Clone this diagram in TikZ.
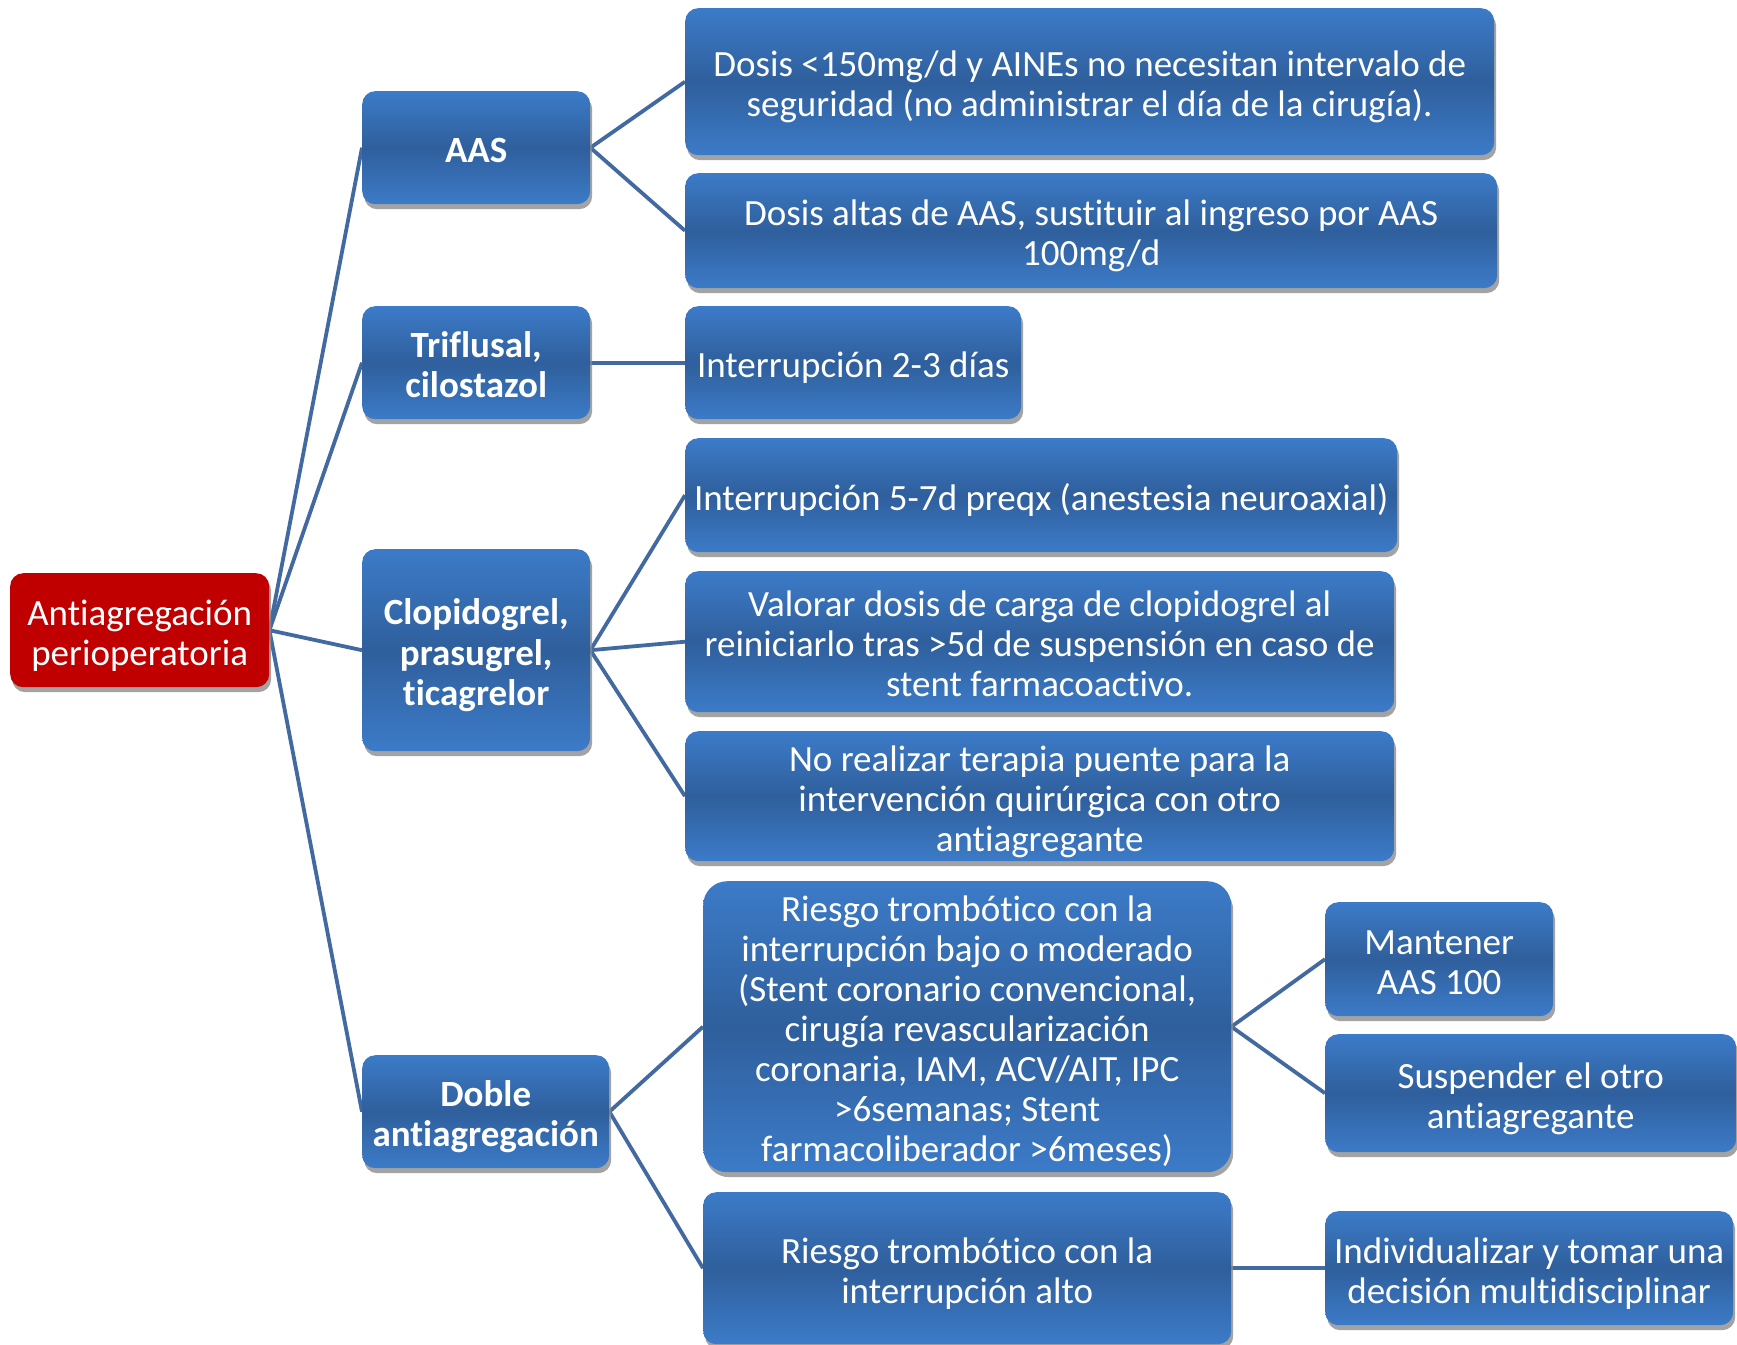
\documentclass[tikz,border=0pt]{standalone}
\usepackage{fontspec}
\setmainfont{Carlito}[Ligatures={NoCommon}]
\usetikzlibrary{shadows,backgrounds}
\definecolor{boxtop}{RGB}{60,123,200}
\definecolor{boxmid}{RGB}{47,95,156}
\definecolor{rootred}{RGB}{192,0,0}
\definecolor{linkc}{RGB}{66,106,160}
\newcommand\tx[1]{\rule{0pt}{40pt}#1\rule[-10pt]{0pt}{10pt}}
\tikzset{
  base/.style={anchor=north west, rounded corners=13pt, inner xsep=2pt, inner ysep=0pt, align=center,
    text=white, font=\fontsize{37}{40}\selectfont,
    drop shadow={shadow xshift=2pt, shadow yshift=-5pt, fill=black!45, opacity=0.8}},
  bluebox/.style={base, top color=boxtop, bottom color=boxtop, middle color=boxmid},
  boldbox/.style={bluebox, font=\fontsize{37}{40.5}\selectfont\bfseries},
  redbox/.style={base, fill=rootred},
  link/.style={draw=linkc, line width=3.8pt}
}
\begin{document}
\begin{tikzpicture}[x=1pt,y=-1pt]
\useasboundingbox (0,0) rectangle (1737,1344);
% root
\node[redbox, minimum width=259pt, minimum height=114pt] (root) at (10,573) {\tx{Antiagregación\\perioperatoria}};
% level 1
\node[boldbox, minimum width=228pt, minimum height=113pt] (aas) at (362,91) {\tx{AAS}};
\node[boldbox, minimum width=228pt, minimum height=113pt] (tri) at (362,306) {\tx{Triflusal,\\cilostazol}};
\node[boldbox, minimum width=228pt, minimum height=202pt] (clo) at (362,549) {\tx{Clopidogrel,\\prasugrel,\\ticagrelor}};
\node[boldbox, minimum width=247pt, minimum height=113pt] (dob) at (362,1055) {\tx{Doble\\antiagregación}};
% level 2
\node[bluebox, minimum width=809pt, minimum height=147pt] (d1) at (685,8) {\tx{Dosis <150mg/d y AINEs no necesitan intervalo de\\seguridad (no administrar el día de la cirugía).}};
\node[bluebox, minimum width=812pt, minimum height=115pt] (d2) at (685,173) {\tx{Dosis altas de AAS, sustituir al ingreso por AAS\\100mg/d}};
\node[bluebox, minimum width=336pt, minimum height=113pt] (i23) at (685,306) {\tx{Interrupción 2-3 días}};
\node[bluebox, minimum width=712pt, minimum height=114pt] (i57) at (685,438) {\tx{Interrupción 5-7d preqx (anestesia neuroaxial)}};
\node[bluebox, minimum width=709pt, minimum height=141pt] (val) at (685,571) {\tx{Valorar dosis de carga de clopidogrel al\\reiniciarlo tras >5d de suspensión en caso de\\stent farmacoactivo.}};
\node[bluebox, minimum width=709pt, minimum height=130pt] (nor) at (685,731) {\tx{No realizar terapia puente para la\\intervención quirúrgica con otro\\antiagregante}};
\node[bluebox, rounded corners=24pt, minimum width=528pt, minimum height=291pt] (rb) at (703,881) {\tx{Riesgo trombótico con la\\interrupción bajo o moderado\\(Stent coronario convencional,\\cirugía revascularización\\coronaria, IAM, ACV/AIT, IPC\\>6semanas; Stent\\farmacoliberador >6meses)}};
\node[bluebox, minimum width=528pt, minimum height=152pt] (ra) at (703,1192) {\tx{Riesgo trombótico con la\\interrupción alto}};
% level 3
\node[bluebox, minimum width=228pt, minimum height=114pt] (man) at (1325,902) {\tx{Mantener\\AAS 100}};
\node[bluebox, minimum width=411pt, minimum height=118pt] (sus) at (1325,1034) {\tx{Suspender el otro\\antiagregante}};
\node[bluebox, minimum width=408pt, minimum height=114pt] (ind) at (1325,1211) {\tx{Individualizar y tomar una\\decisión multidisciplinar}};
% connectors
\begin{scope}[on background layer]
\draw[link] (root.east) -- (aas.west);
\draw[link] (root.east) -- (tri.west);
\draw[link] (root.east) -- (clo.west);
\draw[link] (root.east) -- (dob.west);
\draw[link] (aas.east) -- (d1.west);
\draw[link] (aas.east) -- (d2.west);
\draw[link] (tri.east) -- (i23.west);
\draw[link] (clo.east) -- (i57.west);
\draw[link] (clo.east) -- (val.west);
\draw[link] (clo.east) -- (nor.west);
\draw[link] (dob.east) -- (rb.west);
\draw[link] (dob.east) -- (ra.west);
\draw[link] (rb.east) -- (man.west);
\draw[link] (rb.east) -- (sus.west);
\draw[link] (ra.east) -- (ind.west);
\end{scope}
\end{tikzpicture}
\end{document}
